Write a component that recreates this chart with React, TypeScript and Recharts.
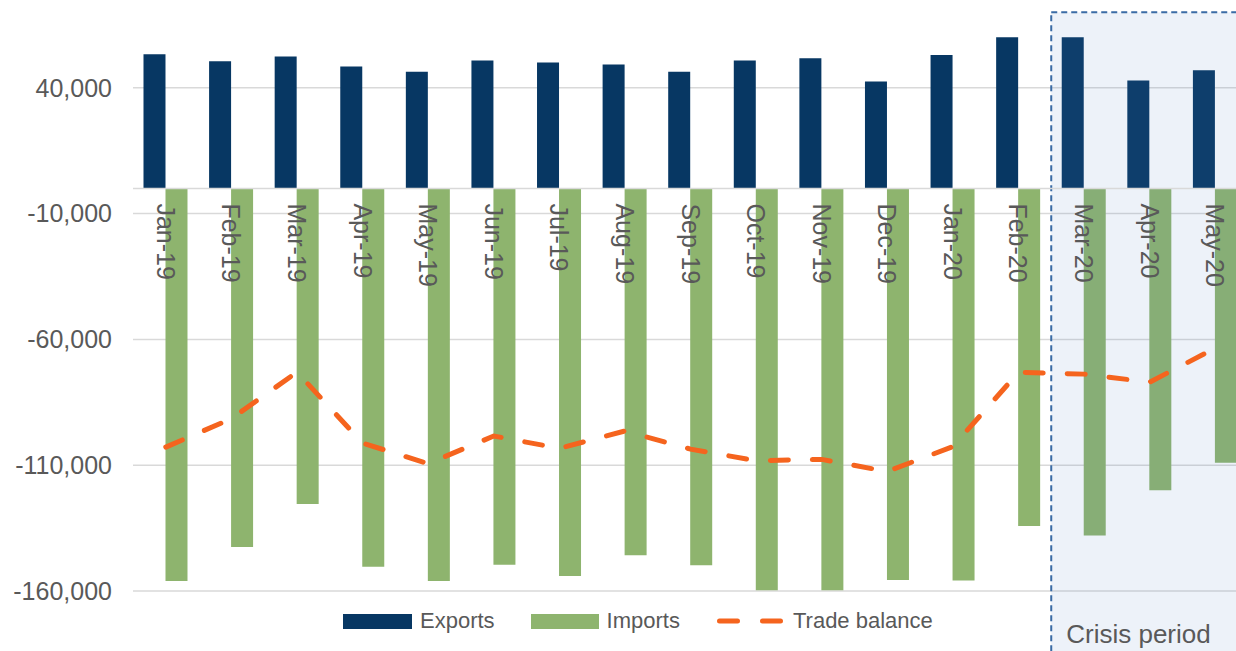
import { ComposedChart, Bar, Line, XAxis, YAxis, CartesianGrid, ReferenceArea, ReferenceLine } from 'recharts';

const months = ['Jan-19', 'Feb-19', 'Mar-19', 'Apr-19', 'May-19', 'Jun-19', 'Jul-19', 'Aug-19', 'Sep-19', 'Oct-19', 'Nov-19', 'Dec-19', 'Jan-20', 'Feb-20', 'Mar-20', 'Apr-20', 'May-20'];
const exportsVals = [53300, 50600, 52400, 48500, 46400, 50900, 50100, 49300, 46400, 50900, 51700, 42500, 53000, 60100, 60100, 42900, 47000];
const importsVals = [-156000, -142500, -125400, -150400, -156000, -149600, -154000, -145800, -149800, -159700, -159700, -155600, -155800, -134200, -137900, -120000, -109000];
const balanceVals = [-102800, -91500, -73000, -101200, -109400, -98400, -103300, -96400, -103600, -108200, -107700, -112500, -102600, -73100, -73800, -77000, -63500];
const yTicks = [-160000, -110000, -60000, -10000, 40000];

const data = months.map((m, i) => ({
    month: m,
    exports: exportsVals[i],
    imports: importsVals[i],
    balance: balanceVals[i],
}));

const Y_MIN = -160000;
const Y_MAX = 90000;
const CHART_W = 1260;
const CHART_H = 700;
const X_AXIS_H = 30;
const MARGIN = { top: 2, right: 12, bottom: 69 - X_AXIS_H, left: 0 };
const PLOT_H = CHART_H - MARGIN.top - MARGIN.bottom - X_AXIS_H;
const ZERO_Y = MARGIN.top + (PLOT_H * Y_MAX) / (Y_MAX - Y_MIN);

const TEXT = '#595959';
const FONT = '"Liberation Sans", Arial, sans-serif';
const EXPORT_COLOR = '#073763';
const IMPORT_COLOR = '#8eb46e';
const BALANCE_COLOR = '#f5641e';

function MonthTick(props: any) {
    const { x, payload } = props;
    const y = ZERO_Y + 15;
    return (
        <g>
            <text x={x} y={y} transform={`rotate(90, ${x}, ${y})`} textAnchor="start" dominantBaseline="central" fill={TEXT} fontSize={25} fontFamily={FONT}>
                {payload.value}
            </text>
        </g>
    );
}

function CrisisShape({ x, y, width }: any) {
    const h = CHART_H - y + 10;
    return (
        <g>
            <rect x={x} y={y} width={width} height={h} fill="#4b7dc8" fillOpacity={0.1} stroke="#3a6ba5" strokeWidth={2} strokeDasharray="6 4" />
            <text x={x + 15} y={CHART_H - 17} fill={TEXT} fontSize={26} fontFamily={FONT}>
                Crisis period
            </text>
        </g>
    );
}

function LegendRow() {
    const label = { fontSize: 22, color: TEXT, fontFamily: FONT, lineHeight: '26px' };
    return (
        <div style={{ position: 'absolute', left: 343, top: 608, display: 'flex', alignItems: 'center', height: 26 }}>
            <div style={{ width: 69, height: 15, background: EXPORT_COLOR }} />
            <span style={{ ...label, marginLeft: 8 }}>Exports</span>
            <div style={{ width: 68, height: 15, background: IMPORT_COLOR, marginLeft: 36 }} />
            <span style={{ ...label, marginLeft: 8 }}>Imports</span>
            <svg width={72} height={14} style={{ marginLeft: 36 }}>
                <line x1={3.5} y1={7} x2={64.5} y2={7} stroke={BALANCE_COLOR} strokeWidth={5} strokeDasharray="18 25" strokeLinecap="round" />
            </svg>
            <span style={{ ...label, marginLeft: 5 }}>Trade balance</span>
        </div>
    );
}

export default function App() {
    return (
        <div style={{ position: 'absolute', left: 0, top: 0, width: 1236, height: 651, overflow: 'hidden', background: '#fff', fontFamily: FONT }}>
            <div style={{ position: 'absolute', left: 0, top: -40 }}>
                <ComposedChart width={CHART_W} height={CHART_H} data={data} margin={MARGIN} barGap={0} barCategoryGap="16%">
                    <CartesianGrid vertical={false} stroke="#d9d9d9" strokeWidth={1.5} />
                    <XAxis dataKey="month" height={X_AXIS_H} axisLine={false} tickLine={false} interval={0} tick={MonthTick} />
                    <YAxis
                        width={133}
                        domain={[Y_MIN, Y_MAX]}
                        ticks={yTicks}
                        axisLine={false}
                        tickLine={false}
                        tickSize={0}
                        tickMargin={21}
                        tick={{ fill: TEXT, fontSize: 25, fontFamily: FONT }}
                        tickFormatter={(v: number) => v.toLocaleString('en-US')}
                    />
                    <ReferenceLine y={0} stroke="#d9d9d9" strokeWidth={1.5} />
                    <Bar dataKey="exports" fill={EXPORT_COLOR} isAnimationActive={false} />
                    <Bar dataKey="imports" fill={IMPORT_COLOR} isAnimationActive={false} />
                    <ReferenceArea x1="Mar-20" x2="May-20" y1={Y_MIN} y2={70000} shape={<CrisisShape />} zIndex={350} />
                    <Line
                        type="linear"
                        dataKey="balance"
                        stroke={BALANCE_COLOR}
                        strokeWidth={5}
                        strokeDasharray="18 24"
                        strokeLinecap="round"
                        dot={false}
                        activeDot={false}
                        isAnimationActive={false}
                    />
                </ComposedChart>
            </div>
            <LegendRow />
        </div>
    );
}
